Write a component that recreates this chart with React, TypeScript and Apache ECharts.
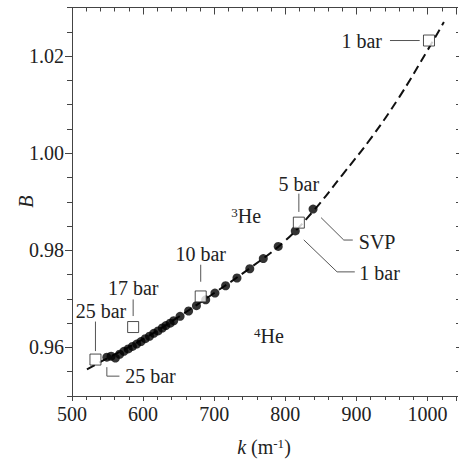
import React, { useEffect, useRef } from 'react';
import * as echarts from 'echarts';

// Dashed guide curve B(k)
const curveK = [521, 550, 600, 650, 700, 750, 800, 840, 880, 920, 960, 1000, 1023];
const curveB = [0.9555, 0.9578, 0.9617, 0.9663, 0.9712, 0.9763, 0.9820, 0.9882, 0.9955, 1.0030, 1.0115, 1.0212, 1.0270];

// 4He measured points (filled circles)
const dotK = [549, 555, 561, 567, 573, 579, 585, 591, 597, 603, 609, 615, 621, 627, 632, 638, 643, 652, 664, 675, 688, 701, 716, 732, 750, 769, 790, 814, 839];
const dotB = [0.9580, 0.9582, 0.9578, 0.9586, 0.9592, 0.9597, 0.9602, 0.9607, 0.9612, 0.9618, 0.9623, 0.9629, 0.9634, 0.9640, 0.9645, 0.9650, 0.9655, 0.9664, 0.9675, 0.9686, 0.9698, 0.9712, 0.9727, 0.9743, 0.9762, 0.9783, 0.9808, 0.9840, 0.9885];

// 3He points (open squares)
const squareLabels = ['25 bar', '17 bar', '10 bar', '5 bar', '1 bar'];
const squareK = [533, 586, 681, 819, 1002];
const squareB = [0.9575, 0.9642, 0.9705, 0.9857, 1.0232];

// 4He labelled points
const dotLabels = ['25 bar', '1 bar', 'SVP'];
const dotLabelK = [549, 814, 839];
const dotLabelB = [0.9580, 0.9840, 0.9885];

// region labels
const regionK = [724, 756];
const regionB = [0.9870, 0.9624];
const regionIso = ['3', '4'];

// axis ticks
const yMajorTicks = [0.96, 0.98, 1.0, 1.02];

const FONT = 'Liberation Serif, serif';
const TXT = '#222';
const AX = '#444';
const FS = 20;

export default function App() {
  const ref = useRef<HTMLDivElement>(null);
  useEffect(() => {
    if (!ref.current) return;
    const chart = echarts.init(ref.current, undefined, { renderer: 'svg' });
    const axisCommon = {
      type: 'value' as const,
      axisLine: { show: true, lineStyle: { color: AX, width: 1 } },
      splitLine: { show: false },
      minorSplitLine: { show: false },
    };
    const yRange = { min: 0.95, max: 1.03 };
    chart.setOption({
      animation: false,
      backgroundColor: '#fff',
      textStyle: { fontFamily: FONT },
      grid: { left: 72, right: 3, top: 7.5, bottom: 64, containLabel: false },
      xAxis: [
        {
          ...axisCommon,
          min: 500,
          max: 1040,
          interval: 100,
          name: '{i|k} (m{s|-1})',
          nameLocation: 'middle',
          nameGap: 41,
          nameMoveOverlap: false,
          nameTextStyle: {
            fontFamily: FONT,
            fontSize: FS,
            color: TXT,
            rich: {
              i: { fontFamily: FONT, fontSize: FS, fontStyle: 'italic', color: TXT },
              s: { fontFamily: FONT, fontSize: 13, color: TXT, verticalAlign: 'top' },
            },
          },
          axisTick: { show: true, inside: false, length: 5, lineStyle: { color: AX } },
          minorTick: { show: true, splitNumber: 5, length: 4, lineStyle: { color: AX } },
          axisLabel: {
            fontFamily: FONT,
            fontSize: FS,
            color: TXT,
            margin: 8,
            showMaxLabel: false,
            formatter: (v: number) => (v > 1030 ? '' : String(v)),
          },
        },
        {
          ...axisCommon,
          position: 'top',
          min: 500,
          max: 1040,
          interval: 100,
          axisTick: { show: true, inside: true, length: 7, lineStyle: { color: AX } },
          minorTick: { show: true, splitNumber: 5, length: 4, lineStyle: { color: AX } },
          axisLabel: { show: false },
        },
      ],
      yAxis: [
        {
          ...axisCommon,
          ...yRange,
          interval: 0.005,
          name: 'B',
          nameLocation: 'middle',
          nameGap: 36,
          nameMoveOverlap: false,
          nameRotate: 90,
          nameTextStyle: { fontFamily: FONT, fontSize: FS, fontStyle: 'italic', color: TXT },
          axisTick: { show: true, inside: false, length: 5, lineStyle: { color: AX } },
          axisLabel: {
            fontFamily: FONT,
            fontSize: FS,
            color: TXT,
            margin: 8,
            customValues: yMajorTicks,
            formatter: (v: number) => v.toFixed(2),
          },
        },
        {
          ...axisCommon,
          ...yRange,
          position: 'left',
          axisLine: { show: false },
          axisTick: { show: true, inside: false, length: 7, customValues: yMajorTicks, lineStyle: { color: AX } },
          axisLabel: { show: false },
        },
        {
          ...axisCommon,
          ...yRange,
          position: 'right',
          interval: 0.005,
          axisLine: { show: false },
          axisTick: { show: true, inside: false, length: 2, lineStyle: { color: AX } },
          axisLabel: { show: false },
        },
        {
          ...axisCommon,
          ...yRange,
          position: 'right',
          axisLine: { show: false },
          axisTick: { show: true, inside: false, length: 4, customValues: yMajorTicks, lineStyle: { color: AX } },
          axisLabel: { show: false },
        },
      ],
      series: [
        {
          type: 'line',
          data: curveK.map((k, i) => [k, curveB[i]]),
          smooth: 0.4,
          showSymbol: false,
          symbol: 'none',
          lineStyle: { color: '#111', width: 2, type: [9, 5] },
          z: 1,
        },
        {
          type: 'scatter',
          data: dotK.map((k, i) => [k, dotB[i]]),
          symbol: 'circle',
          symbolSize: 9,
          itemStyle: { color: '#000' },
          z: 2,
        },
        {
          type: 'scatter',
          data: squareK.map((k, i) => [k, squareB[i]]),
          symbol: 'rect',
          symbolSize: 11,
          itemStyle: { color: '#fff', borderColor: '#222', borderWidth: 1 },
          z: 3,
        },
      ],
    });

    const px = (k: number, b: number) => chart.convertToPixel({ xAxisIndex: 0, yAxisIndex: 0 }, [k, b]) as number[];
    const line = (x1: number, y1: number, x2: number, y2: number) => ({
      type: 'line',
      shape: { x1, y1, x2, y2 },
      style: { stroke: '#555', lineWidth: 1 },
      silent: true,
    });
    const poly = (pts: number[][]) => ({
      type: 'polyline',
      shape: { points: pts },
      style: { stroke: '#555', lineWidth: 1, fill: 'none' },
      silent: true,
    });
    const text = (x: number, y: number, t: string, align: string, extra: any = {}) => ({
      type: 'text',
      x,
      y,
      style: {
        text: t,
        fontFamily: FONT,
        fontSize: FS,
        fill: TXT,
        align,
        verticalAlign: 'middle',
        ...extra,
      },
      silent: true,
    });

    const g: any[] = [];
    const upOff = [
      { a: -8.5, b: -38, dx: 5.5, ty: -49 },
      { a: -11, b: -27.6, dx: 0, ty: -39 },
      { a: -14.7, b: -31.7, dx: 0, ty: -42.7 },
      { a: -10.7, b: -29, dx: 0, ty: -38.3 },
    ];
    upOff.forEach((o, i) => {
      const [x, y] = px(squareK[i], squareB[i]);
      g.push(line(x, y + o.a, x, y + o.b));
      g.push(text(x + o.dx, y + o.ty, squareLabels[i], 'center'));
    });
    {
      const [x, y] = px(squareK[4], squareB[4]);
      g.push(line(x - 39, y, x - 9.3, y));
      g.push(text(x - 47, y, squareLabels[4], 'right'));
    }
    {
      const [x, y] = px(dotLabelK[0], dotLabelB[0]);
      g.push(poly([[x, y + 10], [x, y + 19], [x + 12.6, y + 19]]));
      g.push(text(x + 18.3, y + 19, dotLabels[0], 'left'));
    }
    {
      const [x, y] = px(dotLabelK[1], dotLabelB[1]);
      g.push(poly([[x + 8.5, y + 9], [x + 41.8, y + 41], [x + 59.5, y + 41]]));
      g.push(text(x + 64, y + 42, dotLabels[1], 'left'));
    }
    {
      const [x, y] = px(dotLabelK[2], dotLabelB[2]);
      g.push(poly([[x + 8, y + 8.6], [x + 30.7, y + 31], [x + 39.7, y + 31]]));
      g.push(text(x + 45.7, y + 32.6, dotLabels[2], 'left'));
    }
    regionK.forEach((k, i) => {
      const [x, y] = px(k, regionB[i]);
      g.push(
        text(x, y, `{s|${regionIso[i]}}He`, 'left', {
          rich: {
            s: { fontFamily: FONT, fontSize: 13, fill: TXT, verticalAlign: 'top' },
          },
        })
      );
    });
    chart.setOption({ graphic: g });

    return () => chart.dispose();
  }, []);
  return <div ref={ref} style={{ position: 'fixed', left: 0, top: 0, width: 459, height: 462, background: '#fff' }} />;
}
